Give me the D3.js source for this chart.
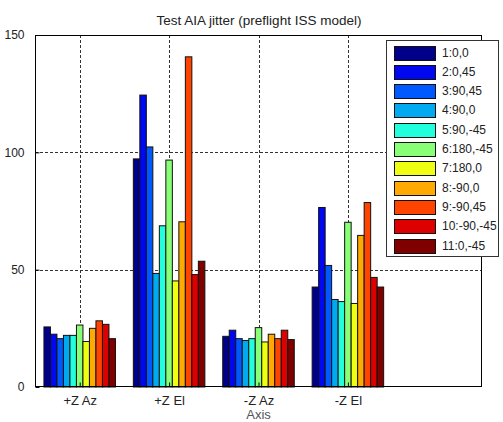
<!DOCTYPE html>
<html><head><meta charset="utf-8">
<script src="https://cdn.jsdelivr.net/npm/d3@7/dist/d3.min.js"></script>
<style>body{margin:0;background:#fff;}svg{display:block;font-family:"Liberation Sans",Arial,sans-serif;}</style>
</head><body>
<svg id="c" width="503" height="422"></svg>
<script>
const categories = ["+Z Az", "+Z El", "-Z Az", "-Z El"];
const seriesLabels = ["1:0,0","2:0,45","3:90,45","4:90,0","5:90,-45","6:180,-45","7:180,0","8:-90,0","9:-90,45","10:-90,-45","11:0,-45"];
const seriesColors = ["#000088","#0008F0","#0058FF","#00AAF0","#22FFDD","#88FF77","#EEFF11","#FFAA00","#FF4400","#DD0000","#800000"];
const s1  = [25.6, 97.2, 21.6, 42.6];
const s2  = [22.5, 124.4, 24.2, 76.5];
const s3  = [20.6, 102.3, 20.6, 51.8];
const s4  = [22.0, 48.4, 19.8, 37.3];
const s5  = [22.0, 68.7, 20.6, 36.4];
const s6  = [26.4, 96.7, 25.3, 70.2];
const s7  = [19.4, 45.2, 19.2, 35.6];
const s8  = [25.0, 70.4, 22.5, 64.6];
const s9  = [28.2, 140.7, 20.6, 78.6];
const s10 = [26.7, 47.9, 24.2, 46.7];
const s11 = [20.6, 53.6, 20.2, 42.6];
const series = [s1,s2,s3,s4,s5,s6,s7,s8,s9,s10,s11];
const yTicks = [0, 50, 100, 150];
const title = "Test AIA jitter (preflight ISS model)";
const xLabel = "Axis";

const svg = d3.select("#c");
const L = 35, R = 482, T = 35, B = 387;
const x = d3.scaleLinear().domain([0.5, 5.5]).range([L, R]);
const y = d3.scaleLinear().domain([0, 150]).range([B, T]);

// grid
const grid = svg.append("g").attr("stroke", "#333").attr("stroke-dasharray", "3,2").attr("stroke-width", 1);
yTicks.filter(v => v > 0).forEach(v => {
  grid.append("line").attr("x1", L).attr("x2", R).attr("y1", Math.round(y(v)) + 0.5).attr("y2", Math.round(y(v)) + 0.5);
});
categories.forEach((c, i) => {
  const xx = Math.round(x(i + 1)) + 0.5;
  grid.append("line").attr("x1", xx).attr("x2", xx).attr("y1", T).attr("y2", B);
});

// bars
const n = series.length, gw = 0.8, bw = gw / n;
const bars = svg.append("g");
series.forEach((s, j) => {
  bars.selectAll(null).data(s).enter().append("rect")
    .attr("x", (d, i) => x(i + 1 - gw / 2 + j * bw))
    .attr("width", x(bw) - x(0))
    .attr("y", d => y(d))
    .attr("height", d => y(0) - y(d))
    .attr("fill", seriesColors[j])
    .attr("stroke", "#111").attr("stroke-width", 1);
});

// axes box
svg.append("rect").attr("x", L + 0.5).attr("y", T + 0.5).attr("width", R - L - 1).attr("height", B - T - 1)
  .attr("fill", "none").attr("stroke", "#000").attr("stroke-width", 1);

// y axis
const yAxis = d3.axisLeft(y).tickValues(yTicks).tickSizeInner(-4).tickSizeOuter(0).tickPadding(11);
const gy = svg.append("g").attr("transform", `translate(${L + 0.5},0)`).call(yAxis);
gy.select(".domain").remove();
gy.selectAll("text").attr("font-size", 12).attr("fill", "#222").attr("font-family", '"Liberation Sans",Arial,sans-serif');
gy.selectAll("line").attr("stroke", "#000");

// x axis
const xAxis = d3.axisBottom(x).tickValues([1, 2, 3, 4]).tickFormat((d, i) => categories[i]).tickSizeInner(-4).tickSizeOuter(0).tickPadding(9);
const gx = svg.append("g").attr("transform", `translate(0,${B - 0.5})`).call(xAxis);
gx.select(".domain").remove();
gx.selectAll("text").attr("font-size", 13).attr("fill", "#222").attr("font-family", '"Liberation Sans",Arial,sans-serif');
gx.selectAll("line").attr("stroke", "#000");

// title and label
svg.append("text").attr("x", (L + R) / 2 + 0.5).attr("y", 25).attr("text-anchor", "middle")
  .attr("font-size", 13.5).attr("fill", "#222").text(title);
svg.append("text").attr("x", (L + R) / 2).attr("y", 419).attr("text-anchor", "middle")
  .attr("font-size", 13).attr("fill", "#555").text(xLabel);

// legend
const lg = svg.append("g");
lg.append("rect").attr("x", 386.5).attr("y", 40.5).attr("width", 112).attr("height", 216)
  .attr("fill", "#fff").attr("stroke", "#333").attr("stroke-width", 1);
seriesLabels.forEach((lab, j) => {
  const yy = 45.5 + j * 19.3;
  lg.append("rect").attr("x", 394.5).attr("y", Math.round(yy) + 0.5).attr("width", 41).attr("height", 14)
    .attr("fill", seriesColors[j]).attr("stroke", "#111").attr("stroke-width", 1);
  lg.append("text").attr("x", 442).attr("y", Math.round(yy) + 8).attr("dominant-baseline", "middle")
    .attr("font-size", 12).attr("fill", "#222").text(lab);
});
</script>
</body></html>
